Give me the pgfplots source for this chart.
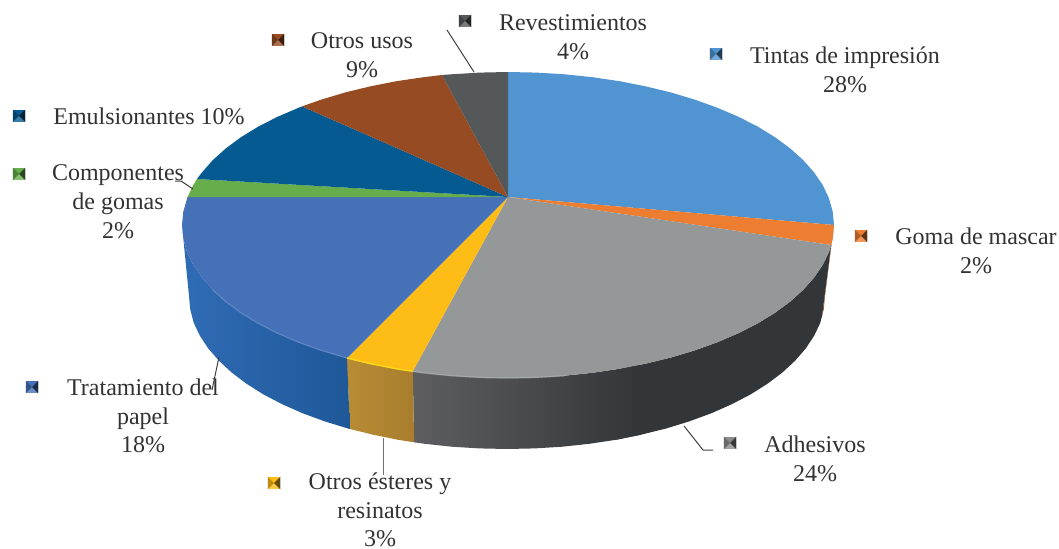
\documentclass[border=0pt]{standalone}
\usepackage{fontspec}
\setmainfont{Liberation Serif}
\usepackage{pgfplots}
\pgfplotsset{compat=1.18}
\definecolor{cTin}{RGB}{80,149,209}
\definecolor{cGom}{RGB}{237,125,49}
\definecolor{cAdh}{RGB}{148,152,152}
\definecolor{cEst}{RGB}{254,189,22}
\definecolor{cTra}{RGB}{68,113,184}
\definecolor{cCom}{RGB}{102,173,75}
\definecolor{cEmu}{RGB}{5,90,145}
\definecolor{cOtr}{RGB}{150,75,35}
\definecolor{cRev}{RGB}{85,88,89}
\definecolor{txt}{RGB}{50,50,50}
\pgfdeclareplotmark{bevel}{%
  \pgfpathrectangle{\pgfqpoint{-\pgfplotmarksize}{-\pgfplotmarksize}}{\pgfqpoint{2\pgfplotmarksize}{2\pgfplotmarksize}}%
  \pgfusepathqfill
  \begin{pgfscope}
    \pgfsetfillcolor{black}\pgfsetfillopacity{0.25}%
    \pgfpathmoveto{\pgfqpoint{-\pgfplotmarksize}{-\pgfplotmarksize}}%
    \pgfpathlineto{\pgfqpoint{-\pgfplotmarksize}{\pgfplotmarksize}}%
    \pgfpathlineto{\pgfqpoint{0pt}{0pt}}\pgfpathclose\pgfusepathqfill
  \end{pgfscope}
  \begin{pgfscope}
    \pgfsetfillcolor{black}\pgfsetfillopacity{0.6}%
    \pgfpathmoveto{\pgfqpoint{\pgfplotmarksize}{-\pgfplotmarksize}}%
    \pgfpathlineto{\pgfqpoint{\pgfplotmarksize}{\pgfplotmarksize}}%
    \pgfpathlineto{\pgfqpoint{0pt}{0pt}}\pgfpathclose\pgfusepathqfill
  \end{pgfscope}
  \begin{pgfscope}
    \pgfsetfillcolor{white}\pgfsetfillopacity{0.2}%
    \pgfpathmoveto{\pgfqpoint{-\pgfplotmarksize}{-\pgfplotmarksize}}%
    \pgfpathlineto{\pgfqpoint{\pgfplotmarksize}{-\pgfplotmarksize}}%
    \pgfpathlineto{\pgfqpoint{0pt}{0pt}}\pgfpathclose\pgfusepathqfill
  \end{pgfscope}
}
\begin{document}
\begin{tikzpicture}[lab/.style={align=center,inner sep=0pt,text=txt,font=\fontsize{18}{21.6}\selectfont}]
\begin{axis}[width=794.25pt,height=411.75pt,scale only axis,
  xmin=0,xmax=1059,ymin=0,ymax=549,y dir=reverse,hide axis,clip=false]
\path (axis cs:0,0) (axis cs:1059,549);
% --- sides
\addplot[draw=none,fill=cGom!70!black] coordinates {(834,225)(832.7,238.3)(831.2,245)(822,316)(823.8,309.3)(825,296)} -- cycle;
\addplot[draw=none,fill={rgb,255:red,50;green,54;blue,56}] coordinates {(831.2,245)(829,252)(822.9,264.6)(814.3,277.3)(803.4,289.7)(790.3,301.5)(775,312.8)(757.7,323.4)(738.5,333.2)(717.5,342.2)(695,350.3)(671,357.5)(645.9,363.6)(619.5,368.8)
 (615.8,439.8)(641.5,434.6)(666,428.5)(689.5,421.3)(711.5,413.2)(731.8,404.2)(750.6,394.4)(767.4,383.8)(782.4,372.5)(795.1,360.7)(805.9,348.3)(814.2,335.6)(820.2,323)(822,316)} -- cycle;
\addplot[draw=none,left color={rgb,255:red,94;green,94;blue,96},right color={rgb,255:red,50;green,54;blue,56}] coordinates {(640,364.8)(619.5,368.8)(592.4,372.8)(564.6,375.7)(536.4,377.4)(508,378)(479.6,377.4)(451.4,375.7)(423.6,372.8)(412.8,371.3)
 (414.1,442.3)(424.6,443.8)(451.7,446.7)(479.3,448.4)(507,449)(534.7,448.4)(562.3,446.7)(589.4,443.8)(615.8,439.8)(640,434.9)} -- cycle;
\addplot[draw=none,left color={rgb,255:red,184;green,140;blue,52},right color={rgb,255:red,168;green,126;blue,46}] coordinates {(412.8,371.3)(396.5,368.8)(370.1,363.6)(347,358)
 (349.9,429)(372.5,434.6)(398.2,439.8)(414.1,442.3)} -- cycle;
\addplot[draw=none,left color={rgb,255:red,48;green,108;blue,182},right color={rgb,255:red,30;green,88;blue,152}] coordinates {(347,358)(345,357.5)(321,350.3)(298.5,342.2)(277.5,333.2)(258.3,323.4)(241,312.8)(225.7,301.5)(212.6,289.7)(201.7,277.3)(193.1,264.6)(187,252)(183.3,238.3)(182,225)
 (189,296)(190.2,309.3)(193.8,323)(199.8,335.6)(208.1,348.3)(218.9,360.7)(231.6,372.5)(246.6,383.8)(263.4,394.4)(282.2,404.2)(302.5,413.2)(324.5,421.3)(348,428.5)(349.9,429)} -- cycle;
% --- top
\addplot[draw=none,fill=cTin] coordinates {(508,197)(508,72)(536.4,72.6)(564.6,74.3)(592.4,77.2)(619.5,81.2)(645.9,86.4)(671,92.5)(695,99.7)(717.5,107.8)(738.5,116.8)(757.7,126.6)(775,137.2)(790.3,148.5)(803.4,160.3)(814.3,172.7)(822.9,185.4)(829,198.4)(832.7,211.7)(834,225)} -- cycle;
\addplot[draw=none,fill=cGom] coordinates {(508,197)(834,225)(832.7,238.3)(831.2,245)} -- cycle;
\addplot[draw=none,fill=cAdh] coordinates {(508,197)(831.2,245)(829,252)(822.9,264.6)(814.3,277.3)(803.4,289.7)(790.3,301.5)(775,312.8)(757.7,323.4)(738.5,333.2)(717.5,342.2)(695,350.3)(671,357.5)(645.9,363.6)(619.5,368.8)(592.4,372.8)(564.6,375.7)(536.4,377.4)(508,378)(479.6,377.4)(451.4,375.7)(423.6,372.8)(412.8,371.3)} -- cycle;
\addplot[draw=none,fill=cEst] coordinates {(508,197)(412.8,371.3)(396.5,368.8)(370.1,363.6)(347,358)} -- cycle;
\addplot[draw=none,fill=cTra] coordinates {(508,197)(347,358)(345,357.5)(321,350.3)(298.5,342.2)(277.5,333.2)(258.3,323.4)(241,312.8)(225.7,301.5)(212.6,289.7)(201.7,277.3)(193.1,264.6)(187,252)(183.3,238.3)(182,225)(183.3,211.7)(187.5,197.1)} -- cycle;
\addplot[draw=none,fill=cCom] coordinates {(508,197)(187.5,197.1)(193.1,185.4)(197,179)} -- cycle;
\addplot[draw=none,fill=cEmu] coordinates {(508,197)(197,179)(201.7,172.7)(212.6,160.3)(225.7,148.5)(241,137.2)(258.3,126.6)(277.5,116.8)(298.5,107.8)(302,106.4)} -- cycle;
\addplot[draw=none,fill=cOtr] coordinates {(508,197)(302,106.4)(321,99.7)(345,92.5)(370.1,86.4)(396.5,81.2)(423.6,77.2)(442,75)} -- cycle;
\addplot[draw=none,fill=cRev] coordinates {(508,197)(442,75)(451.4,74.3)(479.6,72.6)(508,72)} -- cycle;
% --- rim highlights
\addplot[line width=1pt,color=cTra!80!white,opacity=.6] coordinates {(347,358)(321,350.3)(298.5,342.2)(277.5,333.2)(258.3,323.4)(241,312.8)(225.7,301.5)(212.6,289.7)};
\addplot[line width=1.1pt,color={rgb,255:red,255;green,215;blue,25}] coordinates {(412.8,371.3)(396.5,368.8)(370.1,363.6)(347,358)};
\addplot[line width=1.1pt,color=cAdh!80!white,opacity=.7] coordinates {(412.8,371.3)(423.6,372.8)(451.4,375.7)(479.6,377.4)(508,378)(536.4,377.4)(564.6,375.7)};
% --- leader lines
\addplot[color=black!75,line width=.75pt] coordinates {(447,30)(474,72)};
\addplot[color=black!75,line width=.75pt] coordinates {(175,181)(181,181)(193,189)};
\addplot[color=black!75,line width=.75pt] coordinates {(219,357)(212,390)};
\addplot[color=black!55,line width=.75pt] coordinates {(383,438)(383,475)};
\addplot[color=black!75,line width=.75pt] coordinates {(684,426)(703,450)(713,450)};
% --- legend keys
\addplot[only marks,mark=bevel,mark size=4.8pt,fill=cTin,draw=none] coordinates {(716,54)};
\addplot[only marks,mark=bevel,mark size=4.8pt,fill=cGom,draw=none] coordinates {(861,236)};
\addplot[only marks,mark=bevel,mark size=4.8pt,fill=black!45,draw=none] coordinates {(730,443)};
\addplot[only marks,mark=bevel,mark size=4.8pt,fill=cEst,draw=none] coordinates {(274,483)};
\addplot[only marks,mark=bevel,mark size=4.8pt,fill=cTra,draw=none] coordinates {(32,387)};
\addplot[only marks,mark=bevel,mark size=4.8pt,fill=cCom,draw=none] coordinates {(19,174)};
\addplot[only marks,mark=bevel,mark size=4.8pt,fill=cEmu,draw=none] coordinates {(19,116)};
\addplot[only marks,mark=bevel,mark size=4.8pt,fill=cOtr,draw=none] coordinates {(278,40)};
\addplot[only marks,mark=bevel,mark size=4.8pt,fill=cRev,draw=none] coordinates {(465,21)};
% --- labels
\node[lab] at (axis cs:845,70) {Tintas de impresión\\28\%};
\node[lab] at (axis cs:976,251) {Goma de mascar\\2\%};
\node[lab] at (axis cs:815,459) {Adhesivos\\24\%};
\node[lab] at (axis cs:380,510) {Otros ésteres y\\resinatos\\3\%};
\node[lab] at (axis cs:143,416) {Tratamiento del\\papel\\18\%};
\node[lab] at (axis cs:118,202) {Componentes\\de gomas\\2\%};
\node[lab] at (axis cs:149,116) {Emulsionantes 10\%};
\node[lab] at (axis cs:362,55) {Otros usos\\9\%};
\node[lab] at (axis cs:573,37) {Revestimientos\\4\%};
\end{axis}
\end{tikzpicture}
\end{document}
